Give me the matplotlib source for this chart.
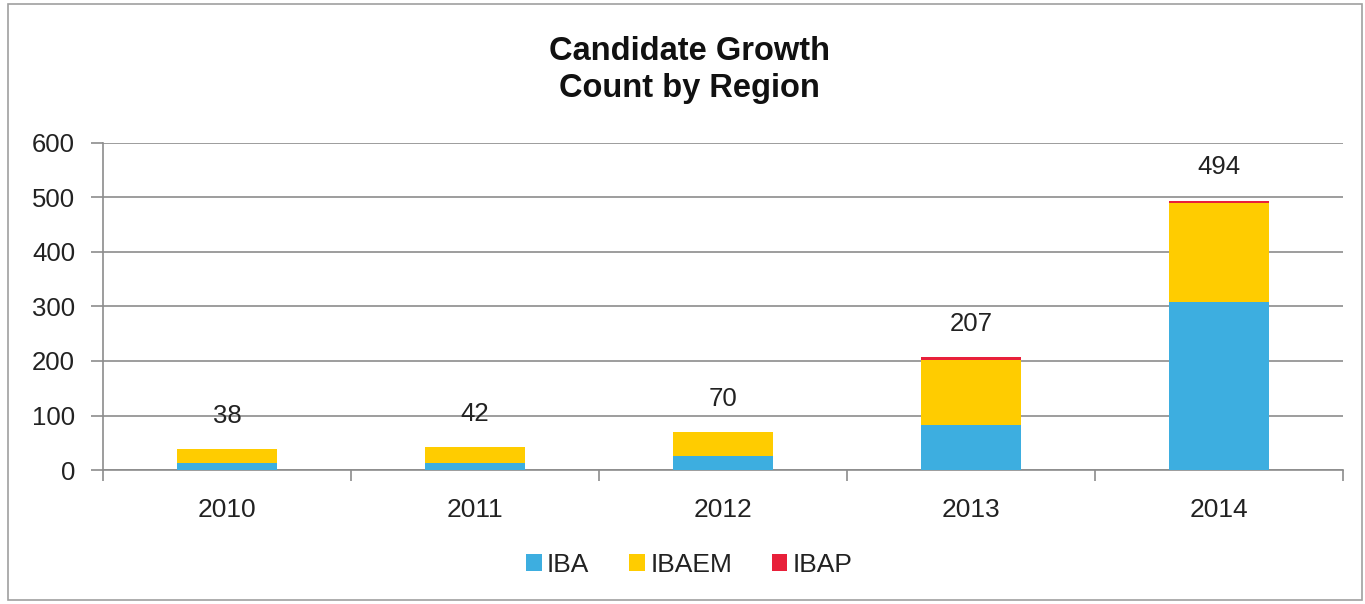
import numpy as np
import matplotlib
matplotlib.use("Agg")
import matplotlib.pyplot as plt
from matplotlib.patches import Rectangle

plt.rcParams['font.family'] = ['Liberation Sans', 'DejaVu Sans']

years = ["2010", "2011", "2012", "2013", "2014"]
iba = [13, 13, 26, 82, 309]
ibaem = [25, 29, 44, 120, 180]
ibap = [0, 0, 0, 5, 5]
totals = [38, 42, 70, 207, 494]

colors = {"IBA": "#3DAEE0", "IBAEM": "#FFCC00", "IBAP": "#E8203A"}
grid_color = "#8C8C8C"

fig = plt.figure(figsize=(13.65, 6.04), dpi=100)
ax = fig.add_axes([103 / 1365, 1 - 470 / 604, 1240 / 1365, 327 / 604])

x = np.arange(len(years))
w = 0.4
ax.bar(x, iba, w, color=colors["IBA"], label="IBA", zorder=3)
ax.bar(x, ibaem, w, bottom=iba, color=colors["IBAEM"], label="IBAEM", zorder=3)
base2 = np.array(iba) + np.array(ibaem)
ax.bar(x, ibap, w, bottom=base2, color=colors["IBAP"], label="IBAP", zorder=3)

# total labels above each stack
for xi, t in zip(x, totals):
    ax.annotate(str(t), (xi, t), xytext=(0, 24), textcoords="offset points",
                ha="center", va="center", fontsize=18.5, color="#222222")

ax.set_xlim(-0.5, len(years) - 0.5)
ax.set_ylim(0, 600)
ax.set_yticks(range(0, 601, 100))
ax.yaxis.grid(True, color=grid_color, linewidth=1.2, zorder=0)
ax.set_axisbelow(True)

ax.set_xticks(x)
ax.set_xticklabels(years)
ax.set_xticks(np.arange(-0.5, len(years)), minor=True)
ax.tick_params(axis="x", which="major", length=0, pad=20, labelsize=19, labelcolor="#222222")
ax.tick_params(axis="x", which="minor", length=8, width=1.2, color=grid_color, direction="out")
ax.tick_params(axis="y", length=9, width=1.2, color=grid_color, pad=11, labelsize=18.5, labelcolor="#222222")

for side in ["top", "right"]:
    ax.spines[side].set_visible(False)
for side in ["left", "bottom"]:
    ax.spines[side].set_color(grid_color)
    ax.spines[side].set_linewidth(1.2)

fig.text(0.505, 1 - 70 / 604, "Candidate Growth\nCount by Region", ha="center", va="center",
         fontsize=23.5, fontweight="bold", linespacing=1.25, color="#111111")

leg = fig.legend(loc="center", bbox_to_anchor=(0.505, 1 - 565 / 604), ncol=3, frameon=False,
                 fontsize=19, handlelength=0.6, handleheight=0.6, handletextpad=0.2,
                 columnspacing=1.5)
for txt in leg.get_texts():
    txt.set_color("#222222")

# outer chart border
fig.patches.append(Rectangle((8 / 1365, 4 / 604), 1354 / 1365, 596 / 604, transform=fig.transFigure,
                             fill=False, edgecolor="#A0A0A0", linewidth=1.2))

fig.savefig("out.png", dpi=100, facecolor="white")
